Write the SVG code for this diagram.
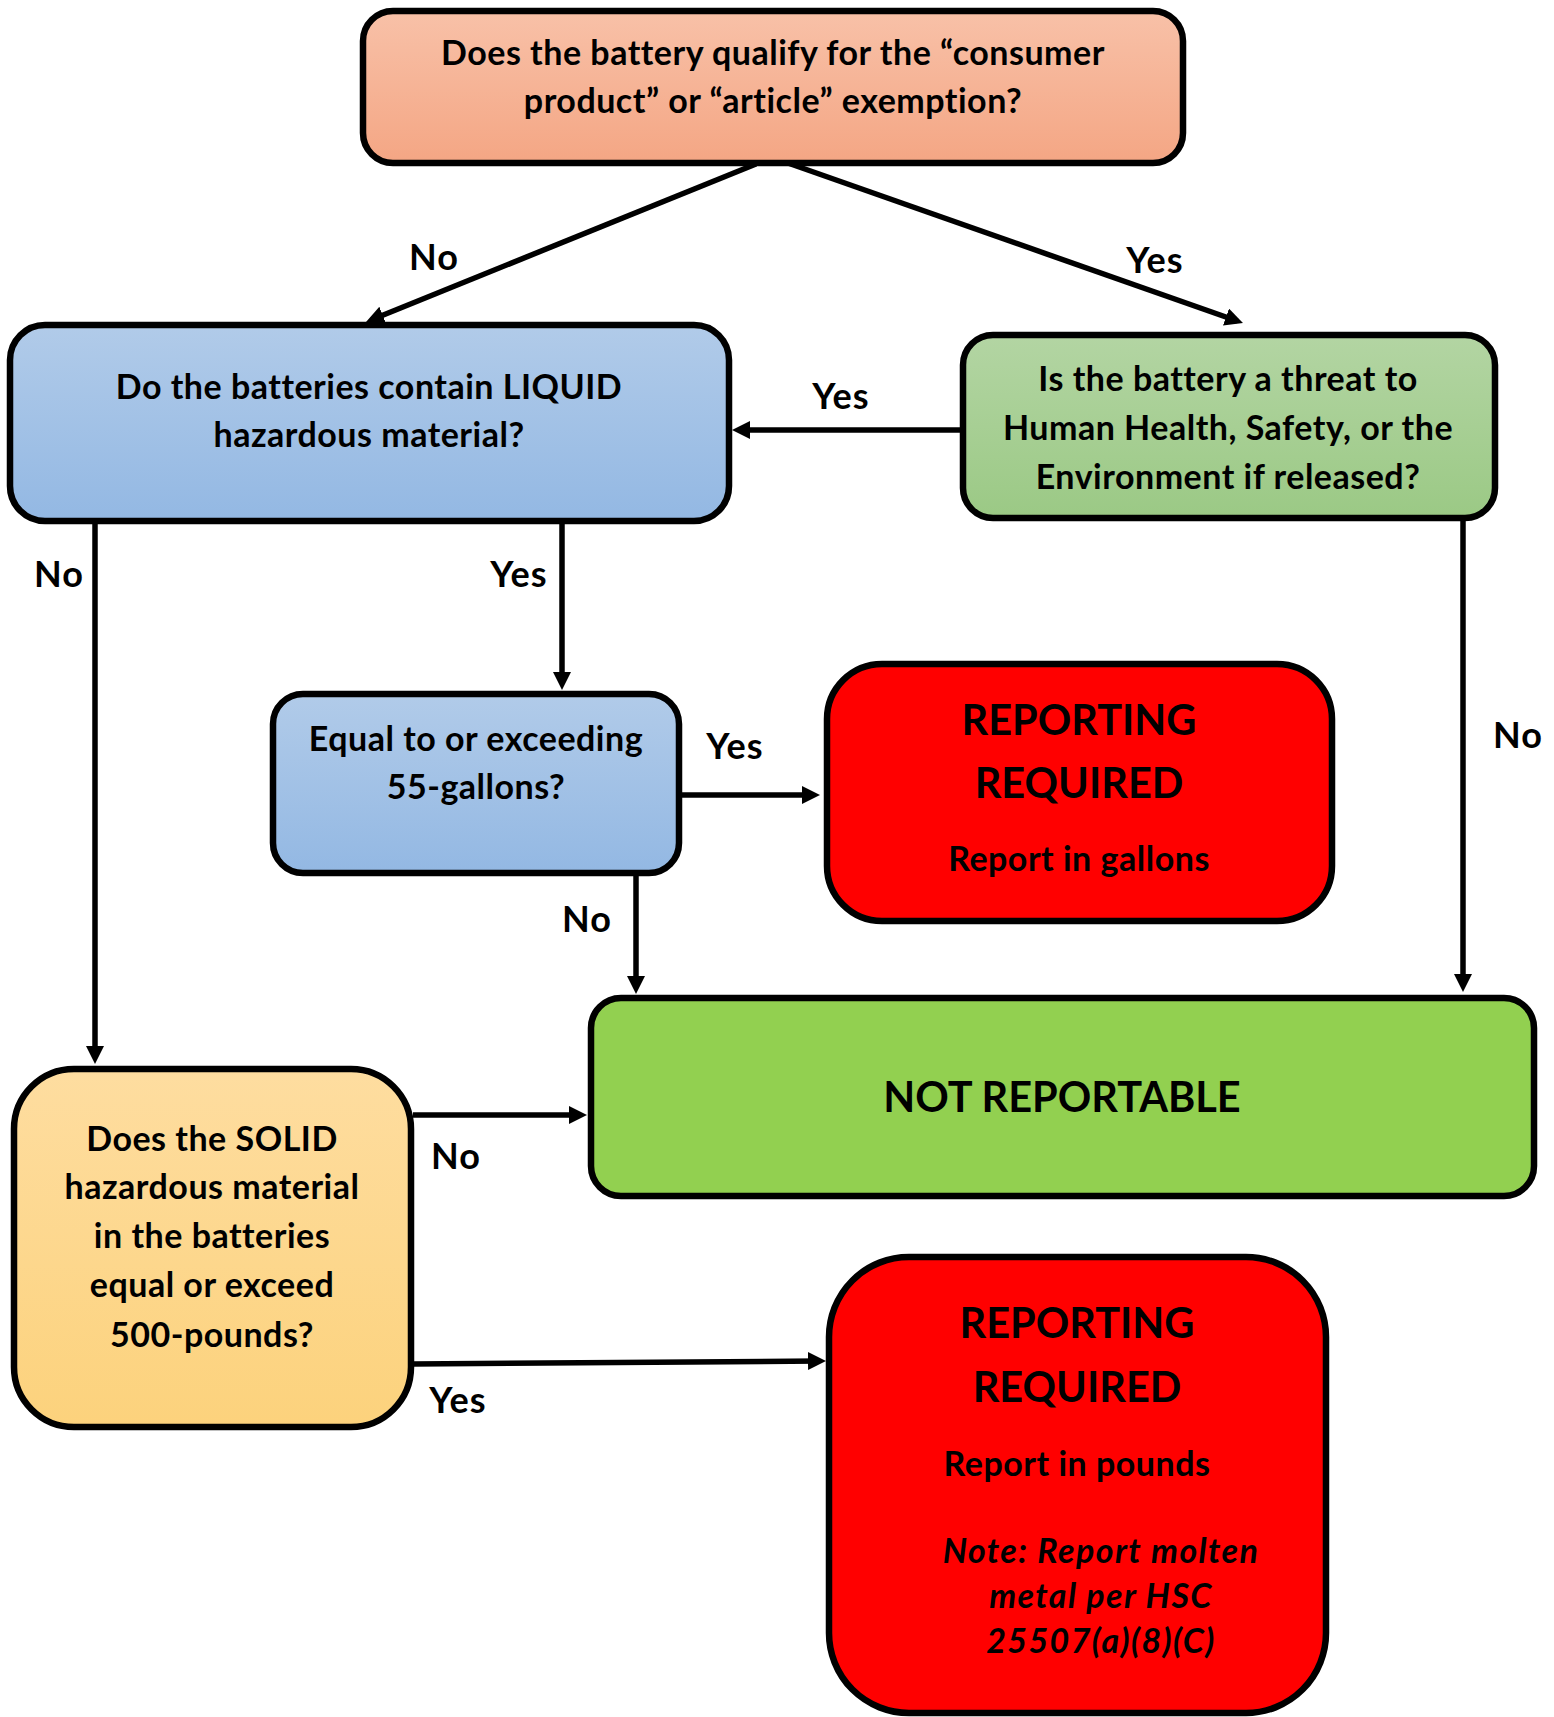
<svg xmlns="http://www.w3.org/2000/svg" width="1554" height="1717" viewBox="0 0 1554 1717">
<defs>
<linearGradient id="gOr" x1="0" y1="0" x2="0" y2="1"><stop offset="0" stop-color="#F8C1A8"/><stop offset="1" stop-color="#F4A684"/></linearGradient>
<linearGradient id="gBl" x1="0" y1="0" x2="0" y2="1"><stop offset="0" stop-color="#B1CBE9"/><stop offset="1" stop-color="#93B8E3"/></linearGradient>
<linearGradient id="gGr" x1="0" y1="0" x2="0" y2="1"><stop offset="0" stop-color="#B3D5A3"/><stop offset="1" stop-color="#9BC985"/></linearGradient>
<linearGradient id="gYe" x1="0" y1="0" x2="0" y2="1"><stop offset="0" stop-color="#FEDDA0"/><stop offset="1" stop-color="#FCD27C"/></linearGradient>
<marker id="arr" markerUnits="userSpaceOnUse" markerWidth="20" markerHeight="20" refX="12" refY="9" orient="auto"><path d="M0,0 L18,9 L0,18 z" fill="#000"/></marker>
<style>
.box{stroke:#000;stroke-width:6.5}
.t{font-family:Lato,"Open Sans",sans-serif;font-weight:bold;font-size:34px;letter-spacing:0.5px;fill:#000;text-anchor:middle}
.big{font-size:41.5px;letter-spacing:0}
.it{font-style:italic;letter-spacing:1.4px}
.lbl{font-family:Lato,"Open Sans",sans-serif;font-weight:bold;font-size:36px;letter-spacing:1px;fill:#000;text-anchor:middle}
.c{stroke:#000;stroke-width:5.5;fill:none;marker-end:url(#arr)}
</style>
</defs>
<g id="connectors">
<line class="c" x1="756" y1="164" x2="371.6" y2="319.7"/>
<line class="c" x1="785" y1="162" x2="1237.3" y2="321"/>
<line class="c" x1="961" y1="430" x2="738" y2="430"/>
<line class="c" x1="95" y1="521" x2="95" y2="1058"/>
<line class="c" x1="562" y1="521" x2="562" y2="684"/>
<line class="c" x1="681" y1="795" x2="814" y2="795"/>
<line class="c" x1="636" y1="875" x2="636" y2="988"/>
<line class="c" x1="1463" y1="519" x2="1463" y2="986"/>
<line class="c" x1="413" y1="1115" x2="581" y2="1115"/>
<line class="c" x1="413" y1="1364" x2="820" y2="1361"/>
<text class="lbl" x="434" y="270">No</text>
<text class="lbl" x="1155" y="273">Yes</text>
<text class="lbl" x="841" y="409">Yes</text>
<text class="lbl" x="59" y="587">No</text>
<text class="lbl" x="519" y="587">Yes</text>
<text class="lbl" x="735" y="759">Yes</text>
<text class="lbl" x="587" y="932">No</text>
<text class="lbl" x="1518" y="748">No</text>
<text class="lbl" x="456" y="1169">No</text>
<text class="lbl" x="458" y="1413">Yes</text>
</g>
<g id="n-exemption">
<rect class="box" x="363" y="11" width="820" height="152" rx="30" fill="url(#gOr)"/>
<text class="t" x="773" y="65">Does the battery qualify for the “consumer</text>
<text class="t" x="773" y="113">product” or “article” exemption?</text>
</g>
<g id="n-liquid">
<rect class="box" x="10" y="325" width="719" height="196" rx="35" fill="url(#gBl)"/>
<text class="t" x="369" y="399">Do the batteries contain LIQUID</text>
<text class="t" x="369" y="447">hazardous material?</text>
</g>
<g id="n-threat">
<rect class="box" x="963" y="335" width="532" height="183" rx="30" fill="url(#gGr)"/>
<text class="t" x="1228" y="391">Is the battery a threat to</text>
<text class="t" x="1228" y="440">Human Health, Safety, or the</text>
<text class="t" x="1228" y="489">Environment if released?</text>
</g>
<g id="n-gallons">
<rect class="box" x="273" y="694" width="406" height="179" rx="30" fill="url(#gBl)"/>
<text class="t" x="476" y="751">Equal to or exceeding</text>
<text class="t" x="476" y="799">55-gallons?</text>
</g>
<g id="n-report-gallons">
<rect class="box" x="827" y="664" width="505" height="257" rx="55" fill="#FF0000"/>
<text class="t big" x="1079" y="735">REPORTING</text>
<text class="t big" x="1079" y="798">REQUIRED</text>
<text class="t" x="1079" y="871">Report in gallons</text>
</g>
<g id="n-not-reportable">
<rect class="box" x="591" y="998" width="943" height="198" rx="30" fill="#92D050"/>
<text class="t big" x="1062" y="1112">NOT REPORTABLE</text>
</g>
<g id="n-solid">
<rect class="box" x="14" y="1069" width="397" height="358" rx="60" fill="url(#gYe)"/>
<text class="t" x="212" y="1151">Does the SOLID</text>
<text class="t" x="212" y="1199">hazardous material</text>
<text class="t" x="212" y="1248">in the batteries</text>
<text class="t" x="212" y="1297">equal or exceed</text>
<text class="t" x="212" y="1347">500-pounds?</text>
</g>
<g id="n-report-pounds">
<rect class="box" x="829" y="1257" width="497" height="456" rx="80" fill="#FF0000"/>
<text class="t big" x="1077" y="1338">REPORTING</text>
<text class="t big" x="1077" y="1402">REQUIRED</text>
<text class="t" x="1077" y="1476">Report in pounds</text>
<text class="t it" x="1101" y="1563">Note: Report molten</text>
<text class="t it" x="1101" y="1608">metal per HSC</text>
<text class="t it" x="1101" y="1653">25507(a)(8)(C)</text>
</g>
</svg>
